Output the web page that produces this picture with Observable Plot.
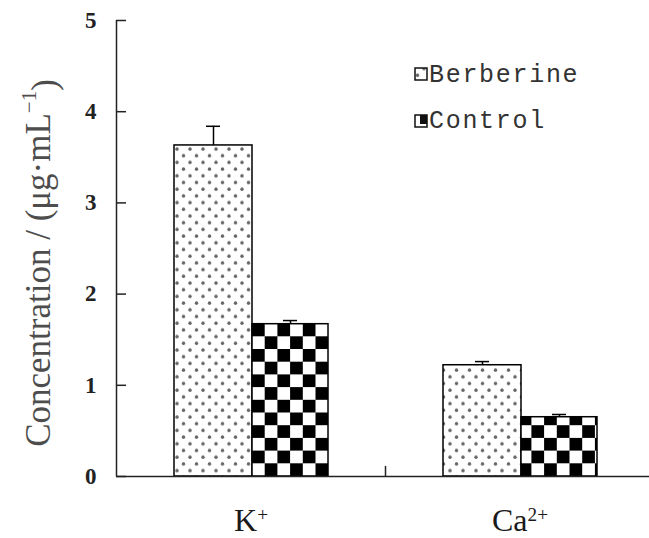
<!DOCTYPE html>
<html><head><meta charset="utf-8">
<script src="https://cdn.jsdelivr.net/npm/d3@7"></script>
<script src="https://cdn.jsdelivr.net/npm/@observablehq/plot@0.6"></script>
<style>body{margin:0;background:#fff;overflow:hidden}</style>
</head><body><div id="chart"></div>
<script>
// ---- data ----
const ions = ["K+", "Ca2+"];
const ionBase = ["K", "Ca"];
const ionSup = ["+", "2+"];
const series = ["Berberine", "Control"];
const berberine = [3.63, 1.22];
const berberineErr = [0.21, 0.04];
const control = [1.67, 0.65];
const controlErr = [0.04, 0.03];
const yTicks = [0, 1, 2, 3, 4, 5];

const W = 649, H = 538, ML = 116, MT = 20, MB = 62;
const band = 269;
const ber = ions.map((ion, i) => ({ion, value: berberine[i], err: berberineErr[i]}));
const ctl = ions.map((ion, i) => ({ion, value: control[i], err: controlErr[i]}));

const chart = Plot.plot({
  width: W, height: H, marginLeft: ML, marginRight: 0, marginTop: MT, marginBottom: MB,
  style: {background: "white", fontFamily: "Liberation Serif", overflow: "visible"},
  x: {domain: ions, range: [ML, ML + 2 * band], padding: 0},
  y: {domain: [0, 5]},
  marks: [
    Plot.barY(ber, {x: "ion", y: "value", fill: "url(#dots)", stroke: "black", strokeWidth: 1.5, insetLeft: 58, insetRight: band - 136}),
    Plot.barY(ctl, {x: "ion", y: "value", fill: "url(#checker)", stroke: "black", strokeWidth: 1.5, insetLeft: 136, insetRight: band - 212}),
    Plot.ruleX(ber, {x: "ion", y1: "value", y2: d => d.value + d.err, dx: 97 - band / 2, stroke: "black", strokeWidth: 1.5}),
    Plot.tickY(ber, {x: "ion", y: d => d.value + d.err, insetLeft: 90, insetRight: band - 104, stroke: "black", strokeWidth: 1.5}),
    Plot.ruleX(ctl, {x: "ion", y1: "value", y2: d => d.value + d.err, dx: 174 - band / 2, stroke: "black", strokeWidth: 1.5}),
    Plot.tickY(ctl, {x: "ion", y: d => d.value + d.err, insetLeft: 167, insetRight: band - 181, stroke: "black", strokeWidth: 1.5}),
    // axes
    Plot.ruleY([0], {stroke: "#222", strokeWidth: 1.5}),
    Plot.ruleX([ions[0]], {x: d => d, dx: -band / 2, y1: 0, y2: 5, stroke: "#222", strokeWidth: 1.5}),
    Plot.ruleX([ions[1]], {x: d => d, dx: -band / 2, y1: 0, y2: 0.11, stroke: "#222", strokeWidth: 1.5}),
    Plot.tickY(yTicks, {y: d => d, insetRight: (W - ML) - 10, stroke: "#222", strokeWidth: 1.5}),
    Plot.axisY({ticks: yTicks, tickFormat: d => String(d), tickSize: 0, tickPadding: 20, label: null, fontSize: 23, fontWeight: "bold", fill: "#222"}),
    Plot.axisX({tickSize: 0, tickPadding: 32, label: null, fontSize: 32, fill: "#1a1a1a"})
  ]
});
document.getElementById("chart").append(chart);

const svg = d3.select(chart);
const defs = svg.insert("defs", ":first-child");
const dp = defs.append("pattern").attr("id", "dots").attr("patternUnits", "userSpaceOnUse")
  .attr("width", 13).attr("height", 13.4).attr("x", 174).attr("y", 146);
dp.append("rect").attr("width", 13).attr("height", 13.4).attr("fill", "white");
dp.append("circle").attr("cx", 3).attr("cy", 3).attr("r", 1.7).attr("fill", "#666");
dp.append("circle").attr("cx", 9.5).attr("cy", 9.7).attr("r", 1.7).attr("fill", "#666");
const cp = defs.append("pattern").attr("id", "checker").attr("patternUnits", "userSpaceOnUse")
  .attr("width", 25.4).attr("height", 25.4).attr("x", 252).attr("y", 476);
cp.append("rect").attr("width", 25.4).attr("height", 25.4).attr("fill", "white");
cp.append("rect").attr("width", 12.7).attr("height", 12.7).attr("fill", "black");
cp.append("rect").attr("x", 12.7).attr("y", 12.7).attr("width", 12.7).attr("height", 12.7).attr("fill", "black");

// superscripts on x tick labels
svg.selectAll('g[aria-label="x-axis tick label"] text').each(function() {
  const t = d3.select(this);
  const idx = ions.indexOf(t.text());
  if (idx < 0) return;
  t.text("");
  t.append("tspan").text(ionBase[idx]);
  t.append("tspan").attr("dy", "-0.55em").attr("font-size", "60%").text(ionSup[idx]);
});

// y-axis title
const title = svg.append("text")
  .attr("transform", "translate(38,263) rotate(-90)")
  .attr("text-anchor", "middle").attr("dominant-baseline", "central")
  .attr("font-family", "Liberation Serif").attr("font-size", 35).attr("fill", "#4d4d4d");
title.append("tspan").text("Concentration / (μg·mL");
title.append("tspan").attr("dy", "-0.45em").attr("font-size", "60%").text("−1");
title.append("tspan").attr("dy", "0.45em").text(")");

// legend
const lg = svg.append("g");
lg.append("rect").attr("x", 415).attr("y", 68).attr("width", 12).attr("height", 12)
  .attr("fill", "url(#dots)").attr("stroke", "#111").attr("stroke-width", 1.5);
lg.append("rect").attr("x", 415).attr("y", 115).attr("width", 12).attr("height", 12)
  .attr("fill", "white").attr("stroke", "#111").attr("stroke-width", 1.5);
lg.append("rect").attr("x", 420).attr("y", 115).attr("width", 7).attr("height", 9).attr("fill", "#111");
series.forEach((s, i) => {
  lg.append("text").attr("x", 429).attr("y", 82 + i * 46).attr("text-anchor", "start")
    .attr("font-family", "Liberation Mono").attr("font-size", 25).attr("letter-spacing", 1.7)
    .attr("fill", "#333").text(s);
});
</script></body></html>
